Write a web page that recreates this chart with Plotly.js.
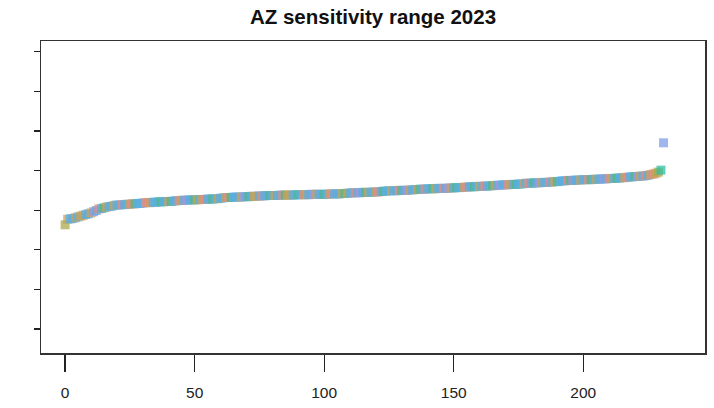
<!DOCTYPE html>
<html>
<head>
<meta charset="utf-8">
<script src="https://cdn.plot.ly/plotly-3.0.1.min.js"></script>
<style>
  html, body { margin: 0; padding: 0; background: #fff; }
  #chart { width: 714px; height: 408px; }
</style>
</head>
<body>
<div id="chart"></div>
<script>
// Sorted sensitivity values, one per rank (rank = array index)
const sensitivity = [
  2.63, 2.77, 2.78, 2.79, 2.81, 2.83, 2.85, 2.87, 2.89, 2.91, 2.93, 2.96, 2.99, 3.03, 3.04, 3.06, 3.08,
  3.09, 3.10, 3.12, 3.13, 3.13, 3.14, 3.14, 3.15, 3.15, 3.16, 3.16, 3.17, 3.17, 3.18, 3.19, 3.19, 3.19,
  3.20, 3.20, 3.21, 3.21, 3.21, 3.22, 3.22, 3.22, 3.23,
  3.24, 3.24, 3.25, 3.25, 3.25, 3.26, 3.26, 3.26, 3.26, 3.27, 3.27, 3.27, 3.28, 3.28, 3.28, 3.29, 3.29, 3.30,
  3.31, 3.32, 3.32, 3.32, 3.33, 3.33, 3.33, 3.33, 3.34, 3.34, 3.34, 3.35, 3.35, 3.35,
  3.36, 3.36, 3.36, 3.37, 3.37, 3.37, 3.37, 3.37, 3.38, 3.38, 3.38, 3.38, 3.38, 3.38, 3.39, 3.39, 3.39,
  3.39, 3.39, 3.39, 3.40, 3.40, 3.40, 3.40, 3.40, 3.40, 3.40, 3.41, 3.41, 3.41, 3.41, 3.41, 3.42, 3.42,
  3.43, 3.43, 3.44, 3.44, 3.44, 3.44, 3.45, 3.45, 3.45, 3.45, 3.46, 3.46, 3.46, 3.47,
  3.48, 3.48, 3.49, 3.49, 3.49, 3.49, 3.50, 3.50, 3.50, 3.50, 3.51, 3.51, 3.52, 3.52,
  3.53, 3.53, 3.53, 3.54, 3.54, 3.54, 3.54, 3.55, 3.55, 3.55, 3.55, 3.56, 3.56, 3.56, 3.57, 3.57, 3.57,
  3.58, 3.58, 3.59, 3.59, 3.59, 3.60, 3.60, 3.60, 3.61, 3.61, 3.61, 3.62, 3.62,
  3.63, 3.63, 3.64, 3.64, 3.64, 3.65, 3.65, 3.65, 3.66, 3.66, 3.67,
  3.68, 3.68, 3.68, 3.69, 3.69, 3.69, 3.70, 3.70, 3.70, 3.71, 3.71, 3.72, 3.72, 3.73,
  3.74, 3.74, 3.75, 3.75, 3.75, 3.76, 3.76, 3.76, 3.77, 3.77, 3.77, 3.77, 3.78, 3.78, 3.78,
  3.79, 3.79, 3.79, 3.80, 3.80, 3.80, 3.81, 3.81, 3.82, 3.82, 3.83,
  3.84, 3.84, 3.85, 3.85, 3.86, 3.86, 3.87, 3.88,
  3.90, 3.91, 3.93, 3.96, 4.01,
  4.70
];

// Group code of each point (one letter per point, same order as the values)
const groupCodes = (
  "otbbtbttbbtlbsbgtbbt" +
  "bbsbbtsgbbbsstbbbgbb" +
  "tgbbstblbbgtbtsbbgbt" +
  "bbtsgbbbtlbgbttbsbbg" +
  "btbbsgttbbgbstbbltbb" +
  "gbtsbbbtgtbbsblbgtbb" +
  "tsbgbbtbbsgbltbbtgbs" +
  "bbgtbbsbltbgbbtsbbgb" +
  "tbsbbgtblbbstbgbbtbs" +
  "bgbltbbsbtgbbbsglbbt" +
  "bbsgbtbblbstbgbbtsbb" +
  "gltbsbtstocp"
).split("");

// Group colours
const groupColors = {
  b: "#5aaee2",  // sky blue
  t: "#c8a25a",  // tan
  s: "#e8897f",  // salmon
  g: "#4fb784",  // green
  l: "#a295e0",  // lavender
  o: "#aaa84e",  // olive
  c: "#2fbfa3",  // teal
  p: "#7f9fe6"   // periwinkle
};

// x tick positions
const xTicks = [0, 50, 100, 150, 200];
// y tick positions (drawn without labels)
const yTicks = [0, 1, 2, 3, 4, 5, 6, 7];

const ranks = sensitivity.map((_, i) => i);
const colors = groupCodes.map(c => groupColors[c]);

const trace = {
  type: "scatter",
  mode: "markers",
  x: ranks,
  y: sensitivity,
  marker: {
    symbol: "square",
    size: 9,
    color: colors,
    opacity: 0.75,
    line: { width: 0 }
  },
  hoverinfo: "x+y"
};

const axisFont = { family: "Liberation Sans, Arial, sans-serif", size: 15.5, color: "#222" };

const layout = {
  width: 714,
  height: 408,
  margin: { l: 41, r: 9, t: 41, b: 55 },
  paper_bgcolor: "#ffffff",
  plot_bgcolor: "#ffffff",
  showlegend: false,
  title: {
    text: "<b>AZ sensitivity range 2023</b>",
    font: { family: "Liberation Sans, Arial, sans-serif", size: 20.5, color: "#111" },
    xref: "paper",
    x: 0.5,
    xanchor: "center",
    yref: "container",
    y: 1 - 17 / 408,
    yanchor: "middle"
  },
  xaxis: {
    range: [-9.3, 247],
    tickmode: "array",
    tickvals: xTicks,
    ticktext: xTicks.map(String),
    ticks: "outside",
    ticklen: 17,
    tickwidth: 1.3,
    tickcolor: "#222",
    ticklabelstandoff: 8,
    tickfont: axisFont,
    showline: true,
    mirror: true,
    linecolor: "#333",
    linewidth: 1.5,
    showgrid: false,
    zeroline: false
  },
  yaxis: {
    range: [-0.606, 7.27],
    tickmode: "array",
    tickvals: yTicks,
    showticklabels: false,
    ticks: "outside",
    ticklen: 6,
    tickwidth: 1.3,
    tickcolor: "#222",
    showline: true,
    mirror: true,
    linecolor: "#333",
    linewidth: 1.5,
    showgrid: false,
    zeroline: false
  }
};

Plotly.newPlot("chart", [trace], layout, { displayModeBar: false, staticPlot: true });
</script>
</body>
</html>
